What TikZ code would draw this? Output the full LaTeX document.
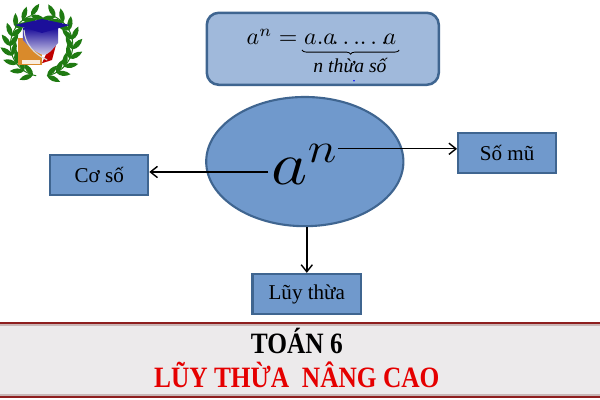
\documentclass[tikz,border=0pt]{standalone}
\usepackage{amsmath}
\usepackage{fontspec}
\setmainfont{Liberation Serif}
\usepackage{tikz}
\usetikzlibrary{positioning,arrows.meta,calc,shapes.geometric,decorations.pathreplacing}
\definecolor{boxblue}{HTML}{A0B9DB}
\definecolor{ovalblue}{HTML}{7099CC}
\definecolor{edgeblue}{HTML}{3F6590}
\definecolor{stripgray}{HTML}{ECEAEB}
\definecolor{stripred}{HTML}{8E1F1F}
\definecolor{leafgreen}{HTML}{1F7A12}
\definecolor{capnavy}{HTML}{1C0F9A}
\definecolor{bookorange}{HTML}{D98A2B}

\begin{document}
\begin{tikzpicture}[
  >={Straight Barb[length=5pt,width=8pt]},
  labelbox/.style={draw=edgeblue, line width=1.6pt, fill=ovalblue, minimum height=1cm, font=\fontsize{15}{17}\selectfont},
  stripline/.style={stripred, line width=1.3pt},
  arrowline/.style={->, black, line width=1pt},
  titletext/.style={font=\fontsize{21}{24}\selectfont\bfseries, xscale=0.86},
  leaf/.pic={\fill[leafgreen] (0,0) .. controls (0.1,0.09) and (0.24,0.08) .. (0.36,0) .. controls (0.24,-0.08) and (0.1,-0.09) .. (0,0);},
]
  \useasboundingbox (0,0) rectangle (15,10);
  \fill[white] (0,0) rectangle (15,10);

  % Logo wreath
  \draw[leafgreen, line width=0.7pt] (1.04,8.875) ++(-80:0.78) arc (-80:70:0.78);
  \draw[leafgreen, line width=0.7pt] (1.04,8.875) ++(260:0.78) arc (260:110:0.78);
  \foreach \ang in {-80,-62,...,70} {
    \path (1.04,8.875) ++(\ang:0.78) pic[rotate=\ang+55] {leaf} pic[rotate=\ang+125] {leaf};
  }
  \foreach \ang in {110,128,...,260} {
    \path (1.04,8.875) ++(\ang:0.78) pic[rotate=\ang-55] {leaf} pic[rotate=\ang-125] {leaf};
  }

  % Logo book and cap
  \fill[bookorange] (0.45,9.05) rectangle (1.05,8.375);
  \fill[white!85!bookorange] (0.55,8.4) rectangle (1.0,8.5);
  \fill[red!75!black] (1.05,8.42) -- (1.3,8.5) -- (1.42,8.95) -- (1.2,8.75) -- cycle;
  \shade[top color=capnavy, bottom color=capnavy!20] (0.575,9.3) -- (1.45,9.3) -- (1.45,8.925)
    .. controls (1.3,8.75) and (1.2,8.62) .. (1.08,8.625) .. controls (0.9,8.68) and (0.7,8.85) .. (0.575,9.0) -- cycle;
  \fill[capnavy] (0.375,9.375) -- (1.05,9.525) -- (1.75,9.375) -- (1.05,9.175) -- cycle;
  \draw[gray!30, line width=0.8pt] (0.6,9.25) .. controls (0.62,8.9) and (0.85,8.65) .. (1.18,8.5);

  % Formula box
  \draw[edgeblue, line width=1.8pt, fill=boxblue, rounded corners=0.3cm] (5.17,7.88) rectangle (10.97,9.68);
  \node[anchor=base, scale=1.7] (formula) at (8.04,8.875) {$a^n=a.a\!{\ldots}{\ldots}\!a$};
  \coordinate (braceleft) at (7.55,8.75);
  \coordinate (braceright) at (9.98,8.75);
  \draw[decorate, decoration={brace, mirror, amplitude=3pt}, line width=0.6pt] (braceleft) -- (braceright);
  \node[font=\fontsize{14}{16}\selectfont\itshape] (count) at (8.75,8.37) {n thừa số};
  \fill[blue] (8.85,7.98) circle (0.6pt);

  % Oval
  \node[ellipse, draw=edgeblue, line width=1.5pt, fill=ovalblue, minimum width=4.93cm, minimum height=3.23cm] (oval) at (7.62,5.96) {};
  \node[anchor=base, xscale=2.9, yscale=2.5] (power) at (7.63,5.375) {\LARGE $a^n$};

  % Boxes
  \node[labelbox, minimum width=2.45cm] (base) at (2.48,5.63) {Cơ số};
  \node[labelbox, minimum width=2.45cm] (exponent) at (12.68,6.18) {Số mũ};
  \node[labelbox, minimum width=2.72cm] (result) at (7.67,2.65) {Lũy thừa};

  % Arrows
  \coordinate (basefoot) at (6.7,5.7);
  \coordinate (expfoot) at (8.45,6.28);
  \draw[arrowline] (basefoot) -- (base.east |- basefoot);
  \draw[arrowline] (expfoot) -- (exponent.west |- expfoot);
  \draw[arrowline] (oval.south -| result) -- (result.north);

  % Bottom strip
  \fill[stripgray] (0,0.1) rectangle (15,1.9);
  \fill[red!15!gray!50] (0,1.85) rectangle (15,1.9);
  \fill[red!15!gray!50] (0,0.1) rectangle (15,0.15);
  \draw[stripline] (0,1.92) -- (15,1.92);
  \draw[stripline] (0,0.08) -- (15,0.08);
  \node[titletext, black] (grade) at (7.42,1.47) {TOÁN 6};
  \node[titletext, red!90!black] (title) at (7.42,0.62) {LŨY THỪA\ \ NÂNG CAO};
\end{tikzpicture}
\end{document}
